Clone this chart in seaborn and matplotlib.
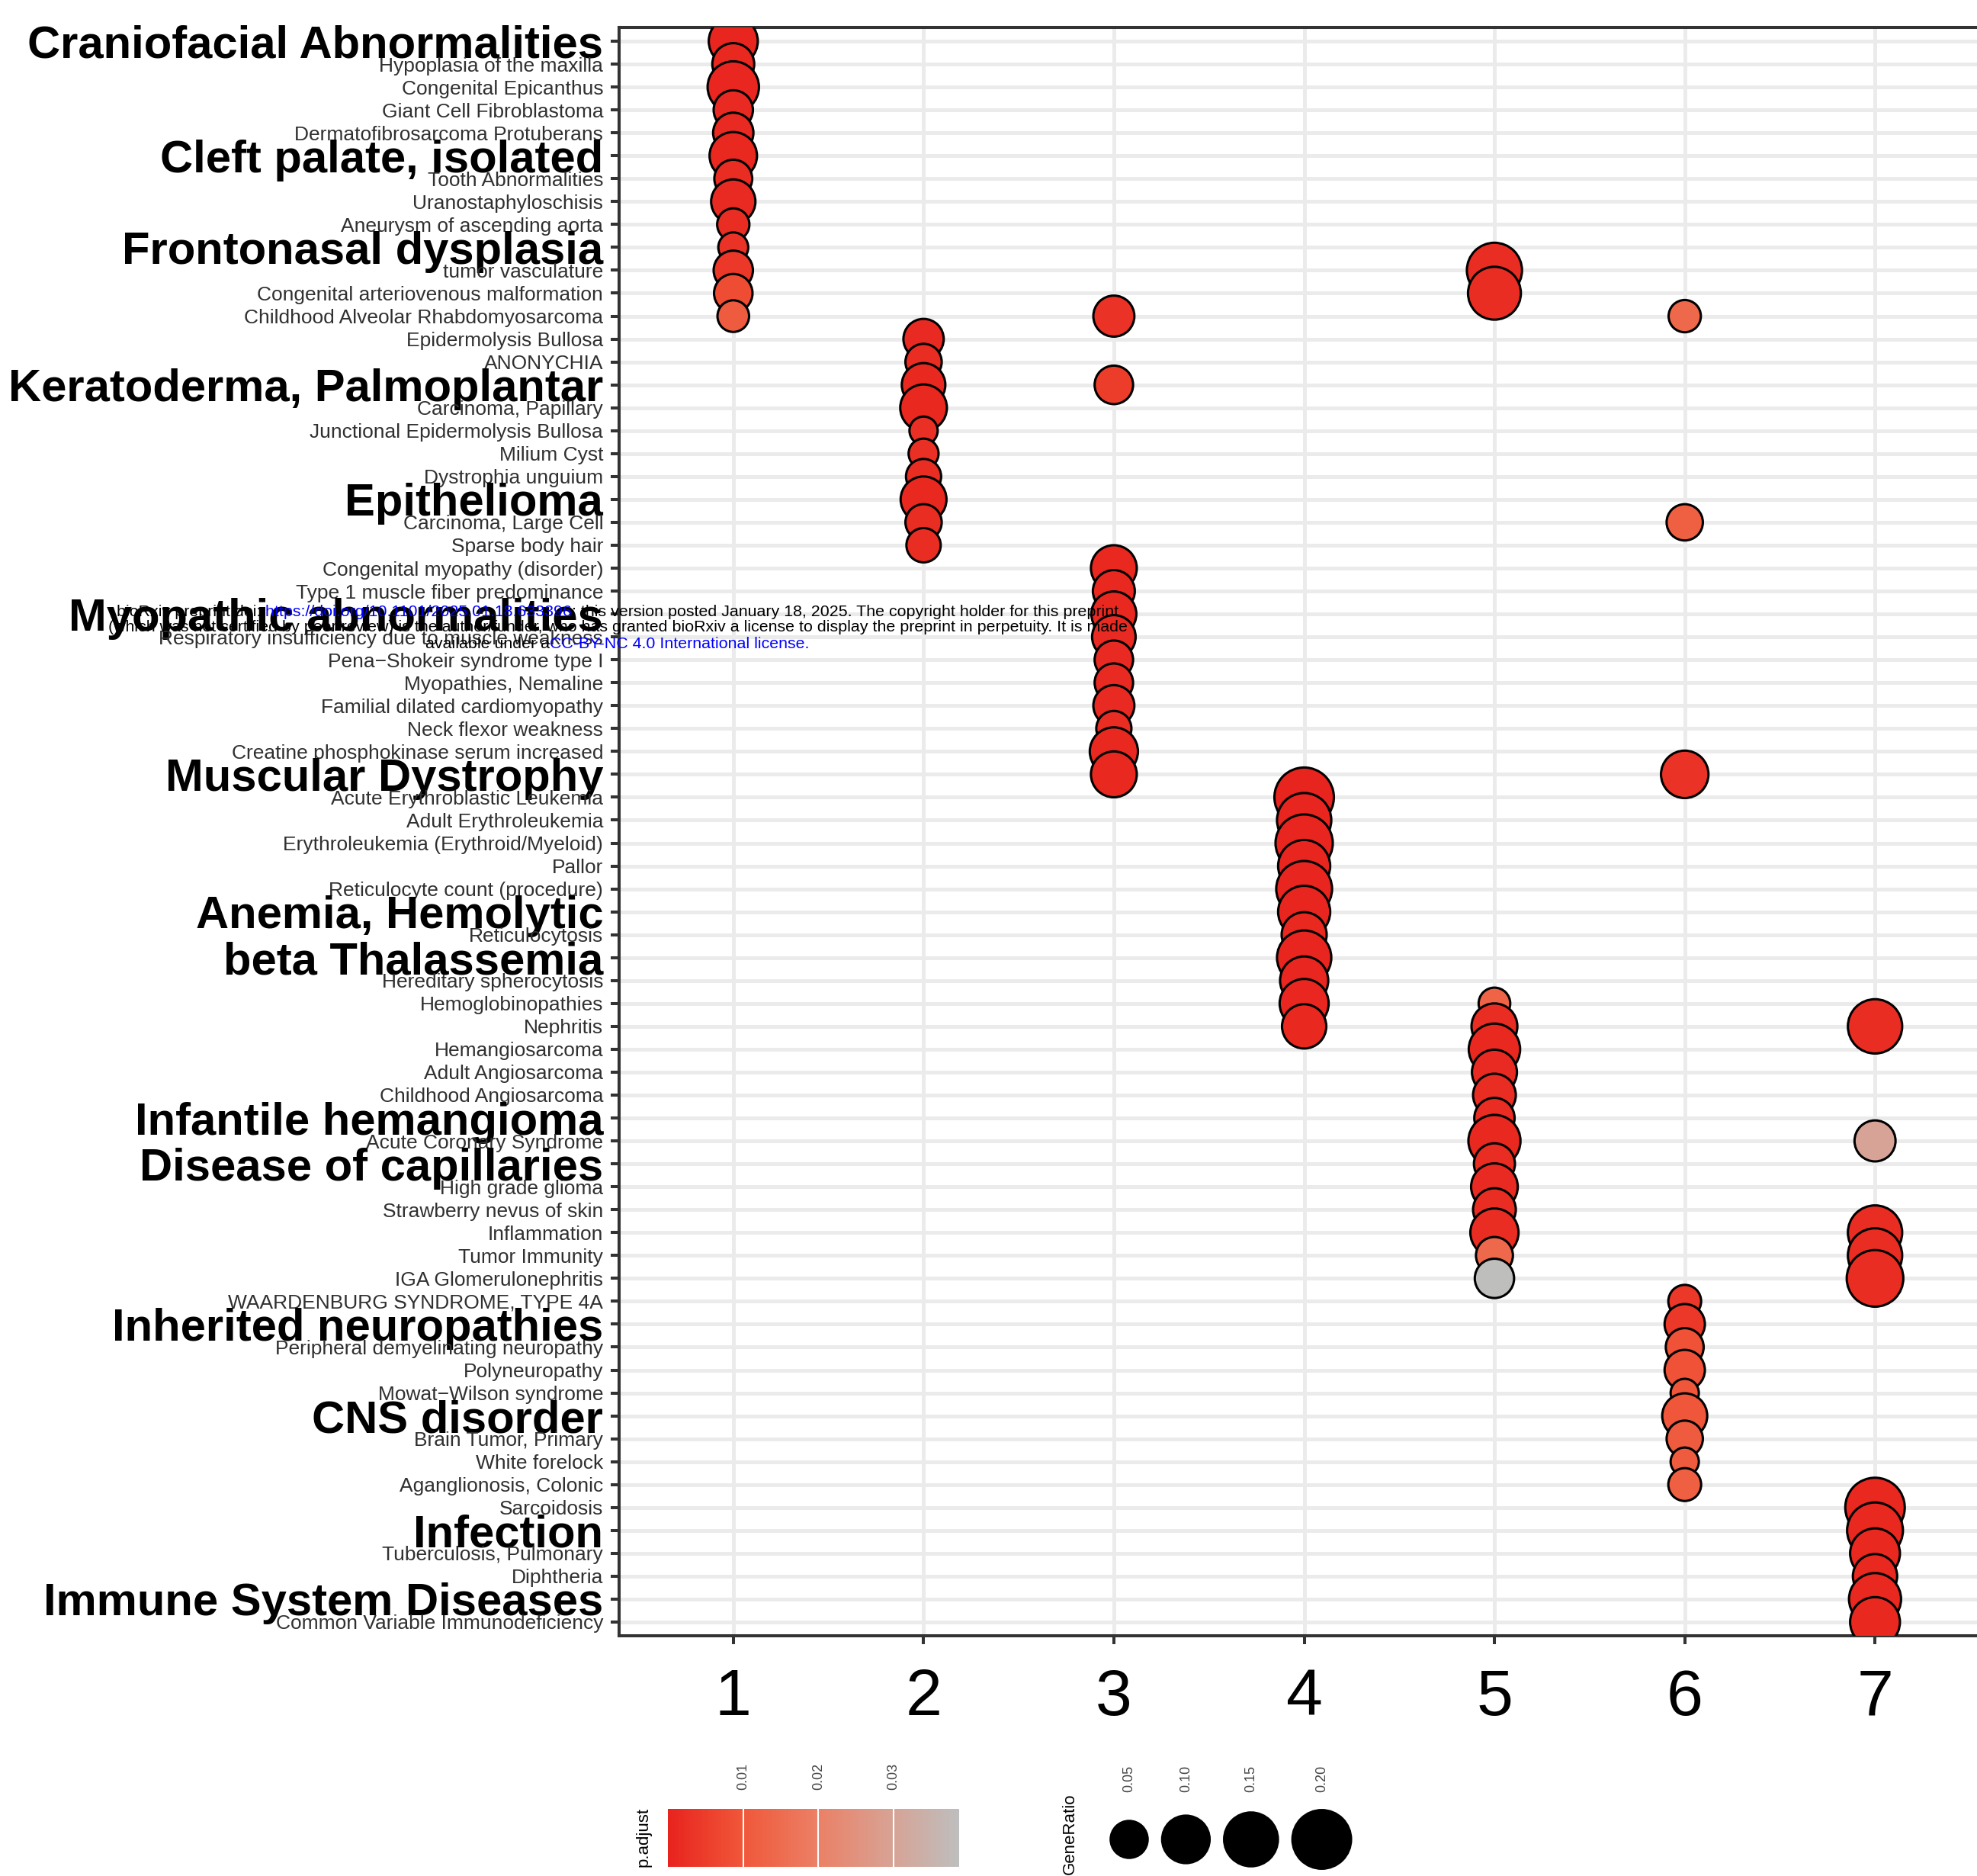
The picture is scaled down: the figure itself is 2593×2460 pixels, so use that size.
import matplotlib
matplotlib.use("Agg")
import matplotlib.pyplot as plt
import numpy as np
import pandas as pd
import seaborn as sns
from matplotlib.colors import LinearSegmentedColormap, Normalize, PowerNorm
from matplotlib.offsetbox import TextArea, HPacker, AnnotationBbox

sns.set_style("white")
plt.rcParams["font.family"] = ["Liberation Sans", "DejaVu Sans"]

# ---------------------------------------------------------------- data
terms = [
    "Craniofacial Abnormalities", "Hypoplasia of the maxilla", "Congenital Epicanthus",
    "Giant Cell Fibroblastoma", "Dermatofibrosarcoma Protuberans", "Cleft palate, isolated",
    "Tooth Abnormalities", "Uranostaphyloschisis", "Aneurysm of ascending aorta",
    "Frontonasal dysplasia", "tumor vasculature", "Congenital arteriovenous malformation",
    "Childhood Alveolar Rhabdomyosarcoma", "Epidermolysis Bullosa", "ANONYCHIA",
    "Keratoderma, Palmoplantar", "Carcinoma, Papillary", "Junctional Epidermolysis Bullosa",
    "Milium Cyst", "Dystrophia unguium", "Epithelioma", "Carcinoma, Large Cell",
    "Sparse body hair", "Congenital myopathy (disorder)", "Type 1 muscle fiber predominance",
    "Myopathic abnormalities", "Respiratory insufficiency due to muscle weakness",
    "Pena\u2212Shokeir syndrome type I", "Myopathies, Nemaline", "Familial dilated cardiomyopathy",
    "Neck flexor weakness", "Creatine phosphokinase serum increased", "Muscular Dystrophy",
    "Acute Erythroblastic Leukemia", "Adult Erythroleukemia", "Erythroleukemia (Erythroid/Myeloid)",
    "Pallor", "Reticulocyte count (procedure)", "Anemia, Hemolytic", "Reticulocytosis",
    "beta Thalassemia", "Hereditary spherocytosis", "Hemoglobinopathies", "Nephritis",
    "Hemangiosarcoma", "Adult Angiosarcoma", "Childhood Angiosarcoma", "Infantile hemangioma",
    "Acute Coronary Syndrome", "Disease of capillaries", "High grade glioma",
    "Strawberry nevus of skin", "Inflammation", "Tumor Immunity", "IGA Glomerulonephritis",
    "WAARDENBURG SYNDROME, TYPE 4A", "Inherited neuropathies",
    "Peripheral demyelinating neuropathy", "Polyneuropathy", "Mowat\u2212Wilson syndrome",
    "CNS disorder", "Brain Tumor, Primary", "White forelock", "Aganglionosis, Colonic",
    "Sarcoidosis", "Infection", "Tuberculosis, Pulmonary", "Diphtheria",
    "Immune System Diseases", "Common Variable Immunodeficiency",
]

group_terms = [
    "Craniofacial Abnormalities", "Cleft palate, isolated", "Frontonasal dysplasia",
    "Keratoderma, Palmoplantar", "Epithelioma", "Myopathic abnormalities",
    "Muscular Dystrophy", "Anemia, Hemolytic", "beta Thalassemia", "Infantile hemangioma",
    "Disease of capillaries", "Inherited neuropathies", "CNS disorder", "Infection",
    "Immune System Diseases",
]

clusters = ["1", "2", "3", "4", "5", "6", "7"]

c1_terms = terms[0:13]
c1_ratio = [0.111, 0.069, 0.129, 0.058, 0.062, 0.100, 0.053, 0.081, 0.039, 0.036, 0.058, 0.055, 0.038]
c1_padj = [0.0005, 0.0010, 0.0008, 0.0015, 0.0015, 0.0010, 0.0020, 0.0015, 0.0020, 0.0030, 0.0040, 0.0080, 0.0110]

c2_terms = terms[13:23]
c2_ratio = [0.062, 0.048, 0.077, 0.095, 0.035, 0.036, 0.045, 0.090, 0.048, 0.043]
c2_padj = [0.0015, 0.0020, 0.0010, 0.0010, 0.0025, 0.0025, 0.0020, 0.0010, 0.0020, 0.0020]

c3_terms = ["Childhood Alveolar Rhabdomyosarcoma", "Keratoderma, Palmoplantar"] + terms[23:33]
c3_ratio = [0.065, 0.055, 0.090, 0.069, 0.085, 0.077, 0.055, 0.055, 0.065, 0.045, 0.105, 0.090]
c3_padj = [0.0030, 0.0050, 0.0010, 0.0010, 0.0010, 0.0015, 0.0015, 0.0015, 0.0015, 0.0020, 0.0010, 0.0010]

c4_terms = terms[33:44]
c4_ratio = [0.210, 0.155, 0.185, 0.135, 0.170, 0.135, 0.085, 0.155, 0.105, 0.111, 0.081]
c4_padj = [0.0003, 0.0005, 0.0004, 0.0006, 0.0005, 0.0006, 0.0010, 0.0006, 0.0008, 0.0008, 0.0010]

c5_terms = ["tumor vasculature", "Congenital arteriovenous malformation"] + terms[42:55]
c5_ratio = [0.163, 0.142, 0.038, 0.090, 0.129, 0.085, 0.073, 0.062, 0.135, 0.065, 0.095, 0.073, 0.105, 0.050, 0.058]
c5_padj = [0.0020, 0.0020, 0.0130, 0.0020, 0.0010, 0.0015, 0.0020, 0.0020, 0.0010, 0.0020, 0.0015, 0.0020, 0.0020, 0.0140, 0.0385]

c6_terms = ["Childhood Alveolar Rhabdomyosarcoma", "Carcinoma, Large Cell", "Muscular Dystrophy"] + terms[55:64]
c6_ratio = [0.039, 0.048, 0.100, 0.040, 0.062, 0.053, 0.062, 0.035, 0.085, 0.048, 0.035, 0.040]
c6_padj = [0.0140, 0.0120, 0.0030, 0.0040, 0.0040, 0.0090, 0.0090, 0.0100, 0.0100, 0.0110, 0.0110, 0.0120]

c7_terms = ["Nephritis", "Acute Coronary Syndrome", "Inflammation", "Tumor Immunity",
            "IGA Glomerulonephritis"] + terms[64:70]
c7_ratio = [0.155, 0.065, 0.155, 0.155, 0.178, 0.210, 0.170, 0.117, 0.081, 0.135, 0.117]
c7_padj = [0.0020, 0.0300, 0.0020, 0.0020, 0.0020, 0.0010, 0.0010, 0.0010, 0.0010, 0.0010, 0.0010]

padj_limits = (0.0, 0.0387)
padj_breaks = [0.01, 0.02, 0.03]
ratio_limits = (0.035, 0.21)
ratio_breaks = [0.05, 0.10, 0.15, 0.20]

# ---------------------------------------------------------------- table
cluster_sets = [
    (1, c1_terms, c1_ratio, c1_padj), (2, c2_terms, c2_ratio, c2_padj),
    (3, c3_terms, c3_ratio, c3_padj), (4, c4_terms, c4_ratio, c4_padj),
    (5, c5_terms, c5_ratio, c5_padj), (6, c6_terms, c6_ratio, c6_padj),
    (7, c7_terms, c7_ratio, c7_padj),
]
df = pd.concat(
    [pd.DataFrame({"cluster": c, "term": t, "GeneRatio": r, "p.adjust": p})
     for c, t, r, p in cluster_sets],
    ignore_index=True,
)
row_of = {t: i for i, t in enumerate(terms)}
df["row"] = df["term"].map(row_of)
df = df.sort_values(["row", "cluster"]).reset_index(drop=True)

# ---------------------------------------------------------------- scales
cmap = LinearSegmentedColormap.from_list(
    "padj", [(0.0, "#E8231E"), (0.25, "#F05638"), (0.5, "#EC7E63"),
             (0.75, "#D9A091"), (1.0, "#BEBEBE")])
padj_norm = Normalize(*padj_limits)
ratio_norm = PowerNorm(gamma=0.64, vmin=ratio_limits[0], vmax=ratio_limits[1])
SIZE_RANGE = (710, 3154)   # marker area in pt^2
EDGE_LW = 2.2

# ---------------------------------------------------------------- figure
W, H, DPI = 2593, 2460, 100
fig = plt.figure(figsize=(W / DPI, H / DPI), dpi=DPI, facecolor="white")


def px_rect(x0, y0, x1, y1):
    """Pixel box (origin top-left) -> figure-fraction rect."""
    return [x0 / W, 1 - y1 / H, (x1 - x0) / W, (y1 - y0) / H]


ax = fig.add_axes(px_rect(812, 36, 2609, 2145))
sns.scatterplot(
    data=df, x="cluster", y="row", hue="p.adjust", size="GeneRatio",
    palette=cmap, hue_norm=padj_norm, sizes=SIZE_RANGE, size_norm=ratio_norm,
    edgecolor="black", linewidth=EDGE_LW, legend=False, ax=ax, zorder=3,
)

ax.set_xlim(0.4, len(clusters) + 0.6)
ax.set_ylim(len(terms) - 0.4, -0.6)
ax.set_xticks(range(1, len(clusters) + 1))
ax.set_xticklabels(clusters)
ax.set_yticks(range(len(terms)))
ax.set_yticklabels(terms)
ax.set_xlabel("")
ax.set_ylabel("")

ax.grid(True, color="#EBEBEB", linewidth=3.6)
ax.set_axisbelow(True)
for s in ax.spines.values():
    s.set_visible(True)
    s.set_color("#333333")
    s.set_linewidth(2.9)

ax.tick_params(axis="both", which="major", bottom=True, left=True,
               length=8, width=2.9, color="#333333")
ax.tick_params(axis="x", labelsize=62, pad=22, labelcolor="black")
ax.tick_params(axis="y", labelsize=19, pad=7, labelcolor="#303030")
for lab in ax.get_yticklabels():
    if lab.get_text() in group_terms:
        lab.set_fontsize(43)
        lab.set_fontweight("bold")
        lab.set_color("black")

# ---------------------------------------------------------------- p.adjust colourbar
cax = fig.add_axes(px_rect(876, 2372, 1258, 2448))
sm = plt.cm.ScalarMappable(norm=padj_norm, cmap=cmap)
cb = fig.colorbar(sm, cax=cax, orientation="horizontal")
cb.outline.set_visible(False)
cb.set_ticks(padj_breaks)
cb.set_ticklabels([f"{b:.2f}" for b in padj_breaks])
cax.xaxis.set_ticks_position("top")
cax.tick_params(axis="x", length=0, labelsize=13, labelrotation=90, pad=18,
                labelcolor="#444444")
for b in padj_breaks:
    cax.axvline(b, color="white", linewidth=1.5)
fig.text(844 / W, 1 - 2448 / H, "p.adjust", rotation=90, ha="center", va="bottom",
         fontsize=16, color="black")

# ---------------------------------------------------------------- GeneRatio legend
lax = fig.add_axes(px_rect(1440, 2360, 1800, 2460))

key_area = SIZE_RANGE[0] + (SIZE_RANGE[1] - SIZE_RANGE[0]) * np.asarray(
    ratio_norm(np.array(ratio_breaks)))
key_diam = np.sqrt(key_area) * DPI / 72 + EDGE_LW * DPI / 72
key_w = key_diam + 16
key_x = 41 + np.concatenate([[0], np.cumsum((key_w[:-1] + key_w[1:]) / 2)])
sns.scatterplot(
    x=key_x, y=np.full(len(ratio_breaks), 52.0), size=ratio_breaks,
    sizes=SIZE_RANGE, size_norm=ratio_norm, color="black", edgecolor="black",
    linewidth=EDGE_LW, legend=False, ax=lax, clip_on=False,
)
lax.axis("off")
lax.set_xlim(0, 360)
lax.set_ylim(100, 0)
for xk, b in zip(key_x, ratio_breaks):
    lax.text(xk, -10, f"{b:.2f}", rotation=90, ha="center", va="bottom",
             fontsize=13, color="#444444", clip_on=False)
fig.text(1403 / W, 1 - 2458 / H, "GeneRatio", rotation=90, ha="center", va="bottom",
         fontsize=16, color="black")

# ---------------------------------------------------------------- preprint notice
notice_lines = [
    (802, [("bioRxiv preprint doi:", "black"),
           (" https://doi.org/10.1101/2025.01.18.633396", "#0000FF"),
           ("; this version posted January 18, 2025. The copyright holder for this preprint", "black")]),
    (823, [("(which was not certified by peer review) is the author/funder, who has granted "
            "bioRxiv a license to display the preprint in perpetuity. It is made", "black")]),
    (844, [("available under a", "black"),
           ("CC-BY-NC 4.0 International license.", "#0000FF")]),
]
for y_px, segs in notice_lines:
    parts = [TextArea(s, textprops=dict(color=c, fontsize=15.4)) for s, c in segs]
    box = HPacker(children=parts, align="baseline", pad=0, sep=0)
    ab = AnnotationBbox(box, (810, H - y_px), xycoords="figure pixels",
                        frameon=False, box_alignment=(0.5, 0.5), pad=0)
    ab.set_zorder(10)
    fig.add_artist(ab)

fig.savefig("out.png", dpi=DPI, facecolor="white")
